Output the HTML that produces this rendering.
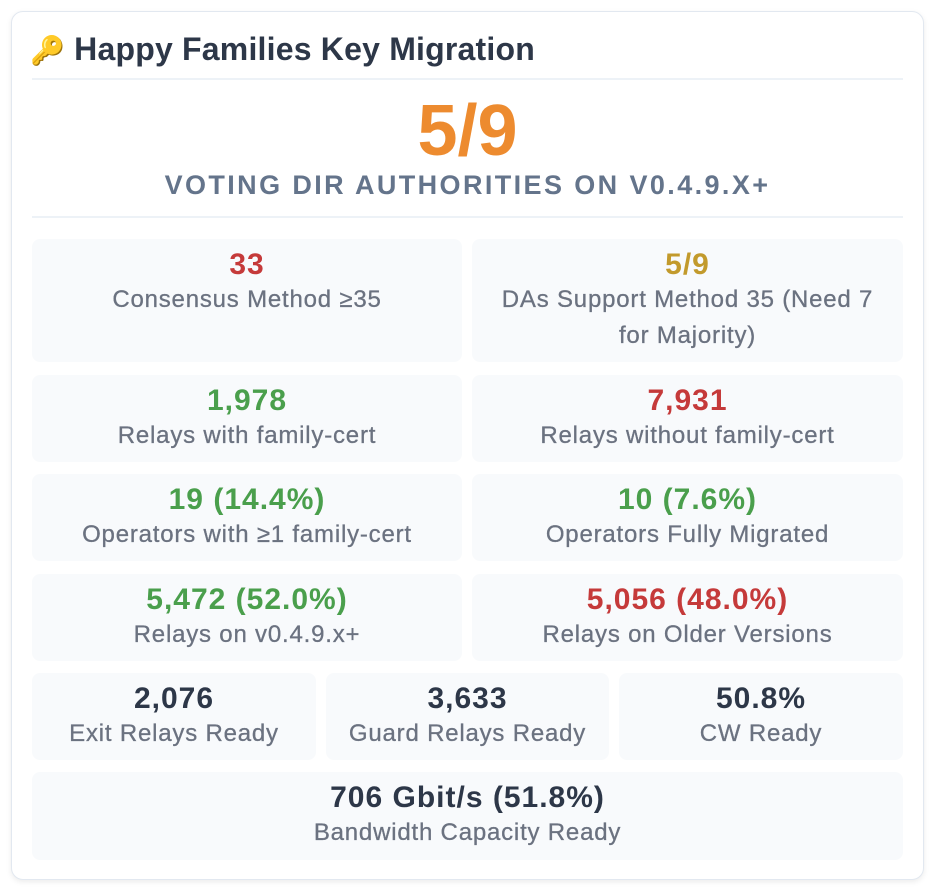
<!DOCTYPE html>
<html><head><meta charset="utf-8"><style>
*{box-sizing:border-box;margin:0;padding:0}
body{width:938px;height:894px;background:#fff;font-family:"Liberation Sans",Arial,sans-serif;position:relative;overflow:hidden}
.card{position:absolute;left:11px;top:11px;width:913px;height:869px;border:1px solid #e2e8f0;border-radius:12px;background:#fff;box-shadow:0 2px 6px rgba(0,0,0,0.08)}
.title{position:absolute;left:30px;top:31px;font-size:32px;font-weight:bold;color:#2d3748;white-space:nowrap;letter-spacing:0.2px}
.hr{position:absolute;left:32px;width:871px;height:2px;background:#edf2f7}
.big{position:absolute;left:32px;width:871px;top:94px;text-align:center;font-size:72px;font-weight:bold;color:#ed8b2f;line-height:74px}
.sub{position:absolute;left:32px;width:871px;top:170px;text-align:center;font-size:27px;font-weight:bold;color:#64748b;letter-spacing:2.4px}
.b{position:absolute;background:#f8fafc;border-radius:8px;text-align:center;padding-top:9px}
.v{font-size:30px;font-weight:bold;line-height:34px;letter-spacing:1px}
.l{font-size:24px;color:#6b7280;line-height:36px;letter-spacing:0.8px;-webkit-text-stroke:0.3px #6b7280}
.r{color:#c53a3a}.g{color:#4a9f4c}.y{color:#c29a2c}.d{color:#2d3748}
</style></head><body>
<div class="card"></div>
<div class="title"><span style="font-size:28px">🔑</span> Happy Families Key Migration</div>
<div class="hr" style="top:78px"></div>
<div class="big">5/9</div>
<div class="sub">VOTING DIR AUTHORITIES ON V0.4.9.X+</div>
<div class="hr" style="top:216px"></div>

<div class="b" style="left:32px;top:239px;width:430px;height:123px"><div class="v r">33</div><div class="l">Consensus Method ≥35</div></div>
<div class="b" style="left:472px;top:239px;width:431px;height:123px"><div class="v y">5/9</div><div class="l" style="padding:0 14px">DAs Support Method 35 (Need 7 for Majority)</div></div>

<div class="b" style="left:32px;top:375px;width:430px;height:87px"><div class="v g">1,978</div><div class="l">Relays with family-cert</div></div>
<div class="b" style="left:472px;top:375px;width:431px;height:87px"><div class="v r">7,931</div><div class="l">Relays without family-cert</div></div>

<div class="b" style="left:32px;top:474px;width:430px;height:87px"><div class="v g">19 (14.4%)</div><div class="l">Operators with ≥1 family-cert</div></div>
<div class="b" style="left:472px;top:474px;width:431px;height:87px"><div class="v g">10 (7.6%)</div><div class="l">Operators Fully Migrated</div></div>

<div class="b" style="left:32px;top:574px;width:430px;height:87px"><div class="v g">5,472 (52.0%)</div><div class="l">Relays on v0.4.9.x+</div></div>
<div class="b" style="left:472px;top:574px;width:431px;height:87px"><div class="v r">5,056 (48.0%)</div><div class="l">Relays on Older Versions</div></div>

<div class="b" style="left:32px;top:673px;width:284px;height:87px"><div class="v d">2,076</div><div class="l">Exit Relays Ready</div></div>
<div class="b" style="left:326px;top:673px;width:283px;height:87px"><div class="v d">3,633</div><div class="l">Guard Relays Ready</div></div>
<div class="b" style="left:619px;top:673px;width:284px;height:87px"><div class="v d">50.8%</div><div class="l">CW Ready</div></div>

<div class="b" style="left:32px;top:772px;width:871px;height:88px"><div class="v d">706 Gbit/s (51.8%)</div><div class="l">Bandwidth Capacity Ready</div></div>
</body></html>
